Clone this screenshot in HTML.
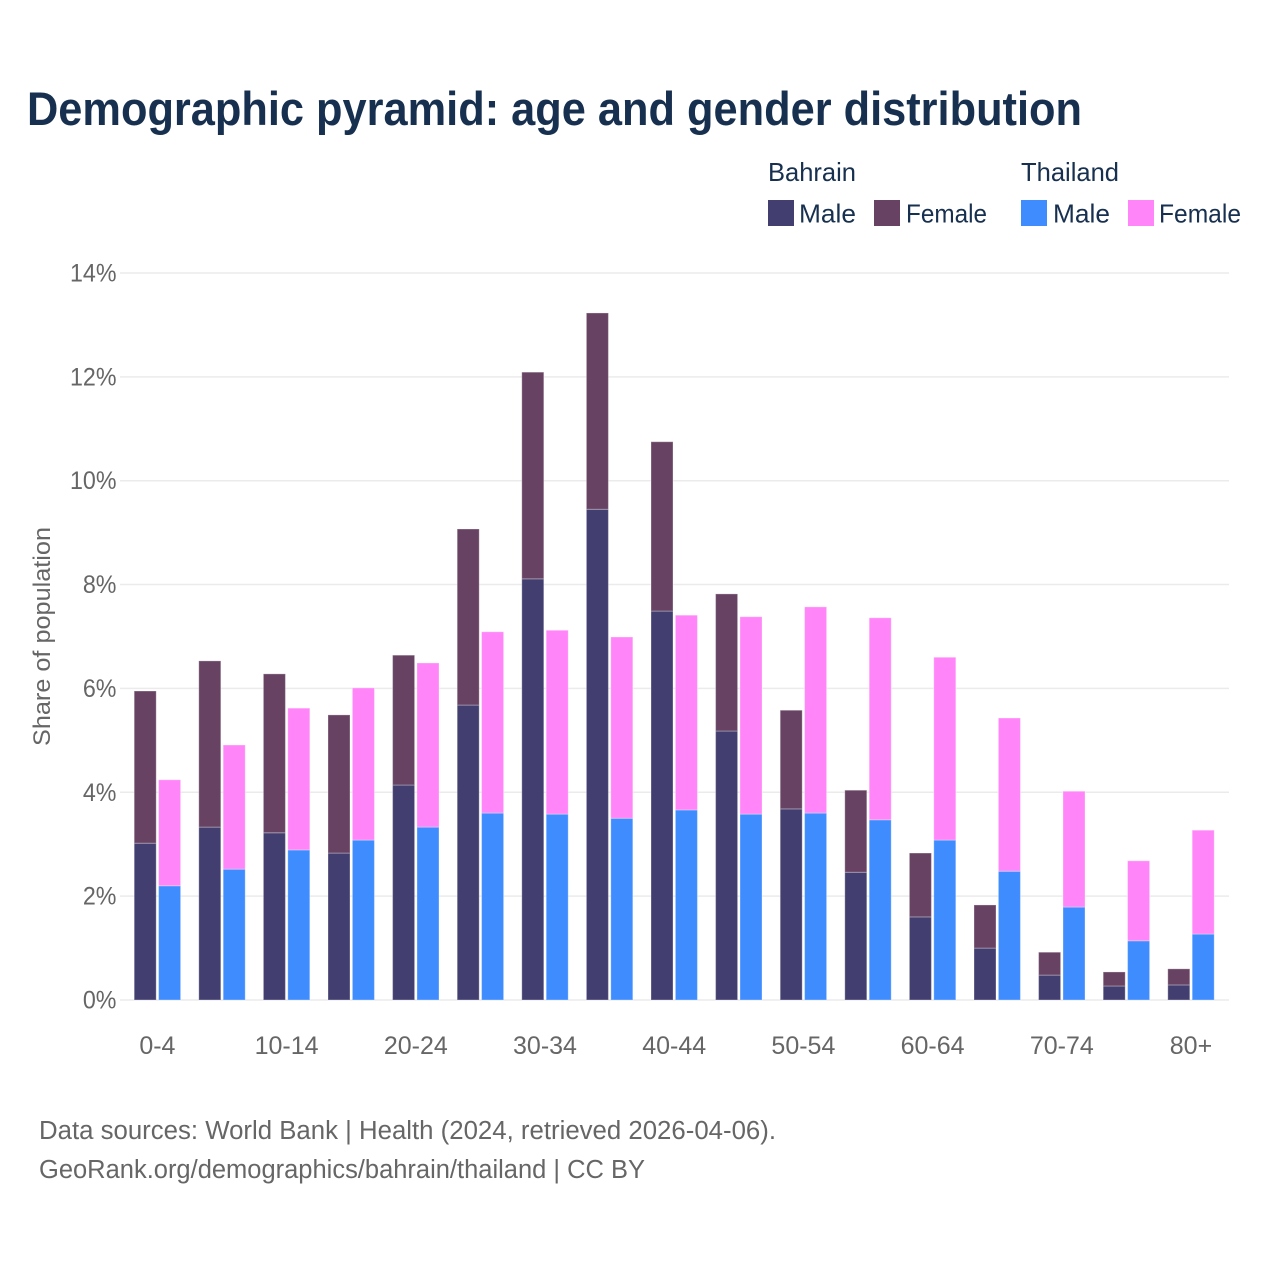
<!DOCTYPE html>
<html lang="en">
<head>
<meta charset="utf-8">
<title>Demographic pyramid: age and gender distribution</title>
<style>
html,body{margin:0;padding:0;background:#fff;}
svg{display:block;font-family:"Liberation Sans",Arial,sans-serif;}
</style>
</head>
<body>
<svg id="chart" xmlns="http://www.w3.org/2000/svg" width="1280" height="1280" viewBox="0 0 1280 1280">
  <rect x="0" y="0" width="1280" height="1280" fill="#ffffff"/>
  <text x="27" y="125" font-size="47" font-weight="700" fill="#17304f" textLength="1055" lengthAdjust="spacingAndGlyphs">Demographic pyramid: age and gender distribution</text>

  <g font-size="26" fill="#17304f">
    <text x="768" y="181" textLength="88" lengthAdjust="spacingAndGlyphs">Bahrain</text>
    <text x="1021" y="181" textLength="98" lengthAdjust="spacingAndGlyphs">Thailand</text>
    <rect x="768" y="200" width="26" height="26" fill="#423f70"/>
    <text x="799" y="222.5" textLength="57" lengthAdjust="spacingAndGlyphs">Male</text>
    <rect x="874" y="200" width="26" height="26" fill="#674263"/>
    <text x="906" y="222.5" textLength="81" lengthAdjust="spacingAndGlyphs">Female</text>
    <rect x="1021" y="200" width="26" height="26" fill="#3f8cff"/>
    <text x="1053" y="222.5" textLength="57" lengthAdjust="spacingAndGlyphs">Male</text>
    <rect x="1128" y="200" width="26" height="26" fill="#ff85f9"/>
    <text x="1159" y="222.5" textLength="82" lengthAdjust="spacingAndGlyphs">Female</text>
  </g>

  <g id="grid"></g>
  <g id="y-ticks"></g>
  <g id="bars"></g>
  <g id="x-ticks"></g>

  <text transform="translate(50,636.5) rotate(-90)" text-anchor="middle" font-size="24.5" fill="#666666" textLength="219" lengthAdjust="spacingAndGlyphs">Share of population</text>

  <text x="39" y="1139" font-size="25.5" fill="#666666" textLength="737" lengthAdjust="spacingAndGlyphs">Data sources: World Bank | Health (2024, retrieved 2026-04-06).</text>
  <text x="39" y="1178" font-size="25.5" fill="#666666" textLength="606" lengthAdjust="spacingAndGlyphs">GeoRank.org/demographics/bahrain/thailand | CC BY</text>
</svg>
<script>
const ageGroups = ["0-4","5-9","10-14","15-19","20-24","25-29","30-34","35-39","40-44","45-49","50-54","55-59","60-64","65-69","70-74","75-79","80+"];
const bahrainMale = [3.02,3.33,3.22,2.83,4.14,5.68,8.11,9.45,7.49,5.18,3.68,2.46,1.60,1.00,0.48,0.27,0.29];
const bahrainFemale = [2.93,3.20,3.06,2.66,2.50,3.39,3.98,3.78,3.26,2.64,1.90,1.58,1.23,0.83,0.44,0.27,0.31];
const thailandMale = [2.20,2.52,2.89,3.08,3.33,3.60,3.58,3.50,3.66,3.58,3.60,3.47,3.08,2.48,1.79,1.14,1.27];
const thailandFemale = [2.04,2.39,2.73,2.93,3.16,3.49,3.54,3.49,3.75,3.80,3.97,3.89,3.52,2.95,2.23,1.54,2.00];
const yTickValues = [0,2,4,6,8,10,12,14];

const NS = 'http://www.w3.org/2000/svg';
function yScale(v){ return 1000 - v * 51.93; }
function groupCenter(i){ return 157.4 + i * 64.6; }
const BAR_W = 22;
function make(tag, parent, attrs){
  const el = document.createElementNS(NS, tag);
  for (const k in attrs) el.setAttribute(k, attrs[k]);
  parent.appendChild(el);
  return el;
}
const grid = document.getElementById('grid');
const yTicks = document.getElementById('y-ticks');
yTickValues.forEach(function(v){
  const line = make('line', grid, {x1:120, x2:1229, y1:yScale(v), y2:yScale(v), stroke:'#ebebeb', 'stroke-width':1.5});
  
  
  const t = make('text', yTicks, {x:116.5, y:yScale(v)+8.5, 'text-anchor':'end', 'font-size':25, fill:'#666666'});
  t.textContent = v + '%';
  
  
  t.setAttribute('textLength', t.getComputedTextLength() * 0.93);
  t.setAttribute('lengthAdjust', 'spacingAndGlyphs');
});
const bars = document.getElementById('bars');
function drawBar(parent, cx, base, height, fill, name){
  const top = yScale(base + height);
  const bottom = yScale(base);
  const r = make('rect', parent, {x:cx - BAR_W/2, y:top, width:BAR_W, height:bottom - top, fill:fill, stroke:'#ffffff', 'stroke-opacity':0.3, 'stroke-width':1});
  
  
}
ageGroups.forEach(function(g, i){
  const c = groupCenter(i);
  drawBar(bars, c - 12.2, 0, bahrainMale[i], '#423f70', 'bar-bahrain-male-' + g);
  drawBar(bars, c - 12.2, bahrainMale[i], bahrainFemale[i], '#674263', 'bar-bahrain-female-' + g);
  drawBar(bars, c + 12.2, 0, thailandMale[i], '#3f8cff', 'bar-thailand-male-' + g);
  drawBar(bars, c + 12.2, thailandMale[i], thailandFemale[i], '#ff85f9', 'bar-thailand-female-' + g);
});
const xTicks = document.getElementById('x-ticks');
ageGroups.forEach(function(g, i){
  if (i % 2 !== 0) return;
  const t = make('text', xTicks, {x:groupCenter(i), y:1054, 'text-anchor':'middle', 'font-size':25, fill:'#666666'});
  t.textContent = g;
  
  
});
</script>
</body>
</html>
